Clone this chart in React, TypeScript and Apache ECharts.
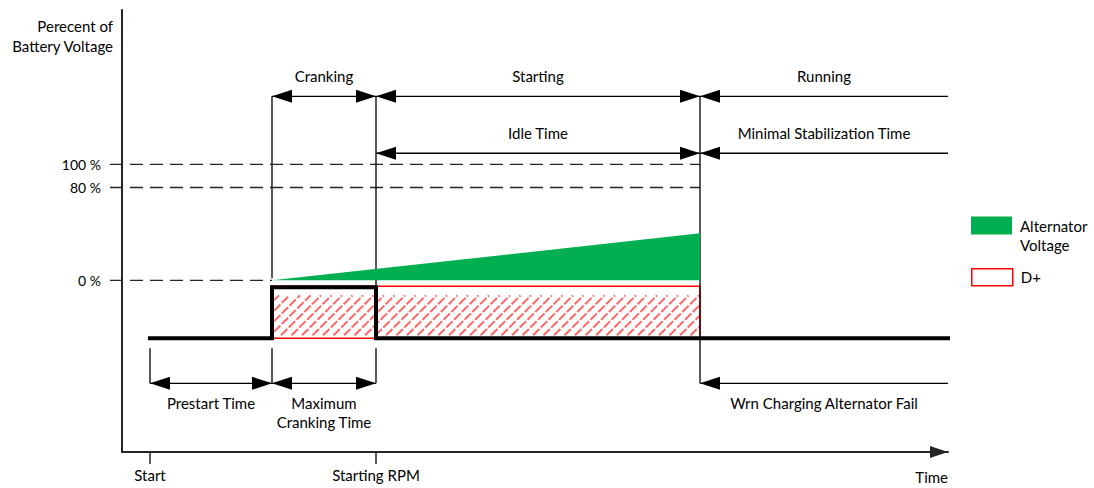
import React, { useEffect, useRef } from 'react';
import * as echarts from 'echarts';

const FONT = 'Lato';
const FS = 15;

// axis ranges (x in time units, y in percent of battery voltage)
const xMin = -28;
const xMax = 798;
const yMin = -148;
const yMax = 233;

const xTickValues = [0, 226];
const xTickLabels = ['Start', 'Starting RPM'];
const xAxisName = 'Time';
const yTickValues = [0, 80, 100];
const yAxisName = 'Perecent of\nBattery Voltage';

// D+ signal (black thick line)
const signalX = [0, 122, 122, 226, 226, 798];
const signalY = [-50, -50, -6, -6, -50, -50];

// alternator voltage ramp
const alternatorX = [122, 550];
const alternatorY = [0, 40.5];

// D+ hatched box: [xFrom, xTo, yLow, yHigh]
const dPlusBox = [[122, 550, -50, -5.2]];

// dashed reference lines: [xFrom, xTo, y]
const refLines = [
  [-40, 550, 100],
  [-40, 550, 80],
  [-40, 122, 0],
];

// vertical guide lines: [x, yFrom, yTo]
const guides = [
  [122, 158.6, 1.7],
  [226, 158.6, -50],
  [550, 158.6, -88.8],
  [0, -58.6, -88.8],
  [122, -58.6, -88.8],
  [226, -58.6, -88.8],
];

// dimension arrows: [xFrom, xTo, y, leftHead, rightHead]
const dims = [
  [122, 226, 158.6, 1, 1],
  [226, 550, 158.6, 1, 1],
  [550, 798, 158.6, 1, 0],
  [226, 550, 109.5, 1, 1],
  [550, 798, 109.5, 1, 0],
  [0, 122, -88.8, 1, 1],
  [122, 226, -88.8, 1, 1],
  [550, 798, -88.8, 1, 0],
];
const dimLabels = [
  'Cranking',
  'Starting',
  'Running',
  'Idle Time',
  'Minimal Stabilization Time',
  'Prestart Time',
  'Maximum\nCranking Time',
  'Wrn Charging Alternator Fail',
];

const GREEN = '#00B050';
const RED = '#FF0000';

export default function App() {
  const ref = useRef<HTMLDivElement>(null);

  useEffect(() => {
    if (!ref.current) return;
    const chart = echarts.init(ref.current, null, { renderer: 'svg' });

    const option: any = {
      animation: false,
      textStyle: { fontFamily: FONT, color: '#000' },
      grid: { left: 122, right: 146, top: 10, bottom: 36, containLabel: false },
      xAxis: {
        type: 'value',
        min: xMin,
        max: xMax,
        name: xAxisName,
        nameLocation: 'end',
        nameGap: 0,
        nameTextStyle: {
          fontSize: FS,
          fontFamily: FONT,
          color: '#000',
          align: 'right',
          verticalAlign: 'top',
          padding: [17, 0, 0, 0],
        },
        axisLine: {
          onZero: false,
          symbol: ['none', 'triangle'],
          symbolSize: [12, 18],
          symbolOffset: [0, -9],
          lineStyle: { color: '#262626', width: 2 },
        },
        axisTick: {
          show: true,
          customValues: xTickValues,
          length: 12,
          lineStyle: { color: '#262626', width: 1.5 },
        },
        axisLabel: {
          customValues: xTickValues,
          formatter: (v: number) => xTickLabels[xTickValues.indexOf(v)] ?? '',
          margin: 15,
          fontSize: FS,
          fontFamily: FONT,
          color: '#000',
        },
        splitLine: { show: false },
      },
      yAxis: {
        type: 'value',
        min: yMin,
        max: yMax,
        name: yAxisName,
        nameLocation: 'end',
        nameGap: 0,
        nameTextStyle: {
          fontSize: FS,
          fontFamily: FONT,
          color: '#000',
          align: 'right',
          verticalAlign: 'top',
          lineHeight: 20,
          padding: [6, 9, 0, 0],
        },
        axisLine: { onZero: false, lineStyle: { color: '#262626', width: 2 } },
        axisTick: { show: false },
        axisLabel: {
          customValues: yTickValues,
          formatter: (v: number) => v + ' %',
          margin: 21,
          fontSize: 14,
          fontFamily: FONT,
          color: '#000',
        },
        splitLine: { show: false },
      },
      legend: [
        {
          data: [{ name: 'Alternator Voltage', icon: 'rect', itemStyle: { color: GREEN } }],
          left: 971,
          top: 197,
          padding: 0,
          orient: 'vertical',
          itemWidth: 41,
          itemHeight: 18,
          selectedMode: false,
          formatter: () => '\nAlternator\nVoltage',
          textStyle: { fontSize: FS, fontFamily: FONT, color: '#000', lineHeight: 19, padding: [0, 0, 0, 3] },
        },
        {
          data: [{ name: 'D+', icon: 'rect', itemStyle: { color: '#fff', borderColor: RED, borderWidth: 1.5 } }],
          left: 971,
          top: 268,
          padding: 0,
          orient: 'vertical',
          itemWidth: 41,
          itemHeight: 17,
          selectedMode: false,
          textStyle: { fontSize: FS, fontFamily: FONT, color: '#000', padding: [0, 0, 0, 3] },
        },
      ],
      series: [
        {
          name: 'refs',
          type: 'custom',
          clip: false,
          data: refLines,
          renderItem: (params: any, api: any) => {
            const a = api.coord([api.value(0), api.value(2)]);
            const b = api.coord([api.value(1), api.value(2)]);
            return {
              type: 'line',
              shape: { x1: a[0], y1: a[1], x2: b[0], y2: b[1] },
              style: { stroke: '#262626', lineWidth: 1.3, lineDash: [13, 7] },
            };
          },
        },
        {
          name: 'D+',
          type: 'custom',
          clip: false,
          itemStyle: { color: '#fff', borderColor: RED },
          data: dPlusBox,
          renderItem: (params: any, api: any) => {
            const p0 = api.coord([api.value(0), api.value(3)]);
            const p1 = api.coord([api.value(1), api.value(2)]);
            const left = p0[0];
            const top = p0[1];
            const right = p1[0];
            const bottom = p1[1];
            const children: any[] = [];
            const ht = top + 9;
            const hb = bottom - 3;
            const hl = left + 2;
            const hr = right;
            for (let c = hl + ht + 5; c < hr + hb; c += 10.5) {
              const xa = Math.max(hl, c - hb);
              const xb = Math.min(hr, c - ht);
              if (xb > xa) {
                children.push({
                  type: 'line',
                  shape: { x1: xa, y1: c - xa, x2: xb, y2: c - xb },
                  style: { stroke: RED, lineWidth: 2, opacity: 0.6, lineDash: [9, 2] },
                });
              }
            }
            children.push({
              type: 'rect',
              shape: { x: left, y: top, width: right - left, height: bottom - top },
              style: { fill: 'none', stroke: RED, lineWidth: 1.5 },
            });
            return { type: 'group', children };
          },
        },
        {
          name: 'Alternator Voltage',
          type: 'line',
          data: alternatorX.map((x, i) => [x, alternatorY[i]]),
          symbol: 'none',
          itemStyle: { color: GREEN },
          lineStyle: { width: 0, color: GREEN },
          areaStyle: { color: GREEN, opacity: 1 },
        },
        {
          name: 'signal',
          type: 'line',
          data: signalX.map((x, i) => [x, signalY[i]]),
          symbol: 'none',
          lineStyle: { color: '#000', width: 4, join: 'miter', cap: 'square' },
        },
        {
          name: 'guides',
          type: 'custom',
          clip: false,
          data: guides,
          renderItem: (params: any, api: any) => {
            const a = api.coord([api.value(0), api.value(1)]);
            const b = api.coord([api.value(0), api.value(2)]);
            return {
              type: 'line',
              shape: { x1: a[0], y1: a[1], x2: b[0], y2: b[1] },
              style: { stroke: '#000', lineWidth: 1.3 },
            };
          },
        },
        {
          name: 'dims',
          type: 'custom',
          clip: false,
          data: dims,
          renderItem: (params: any, api: any) => {
            const a = api.coord([api.value(0), api.value(2)]);
            const b = api.coord([api.value(1), api.value(2)]);
            const L = 20;
            const H = 6.5;
            const children: any[] = [
              {
                type: 'line',
                shape: { x1: a[0], y1: a[1], x2: b[0], y2: b[1] },
                style: { stroke: '#000', lineWidth: 1.3 },
              },
            ];
            if (api.value(3)) {
              children.push({
                type: 'polygon',
                shape: { points: [[a[0], a[1]], [a[0] + L, a[1] - H], [a[0] + L, a[1] + H]] },
                style: { fill: '#000' },
              });
            }
            if (api.value(4)) {
              children.push({
                type: 'polygon',
                shape: { points: [[b[0], b[1]], [b[0] - L, b[1] - H], [b[0] - L, b[1] + H]] },
                style: { fill: '#000' },
              });
            }
            const above = api.value(2) > 0;
            children.push({
              type: 'text',
              style: {
                text: dimLabels[params.dataIndex],
                x: (a[0] + b[0]) / 2,
                y: above ? a[1] - 11 : a[1] + 10,
                align: 'center',
                verticalAlign: above ? 'bottom' : 'top',
                fontSize: FS,
                fontFamily: FONT,
                lineHeight: 19,
                fill: '#000',
              },
            });
            return { type: 'group', children };
          },
        },
      ],
    };

    chart.setOption(option);
    return () => chart.dispose();
  }, []);

  return (
    <div
      ref={ref}
      style={{ position: 'fixed', left: 0, top: 0, width: 1094, height: 488, background: '#fff' }}
    />
  );
}
